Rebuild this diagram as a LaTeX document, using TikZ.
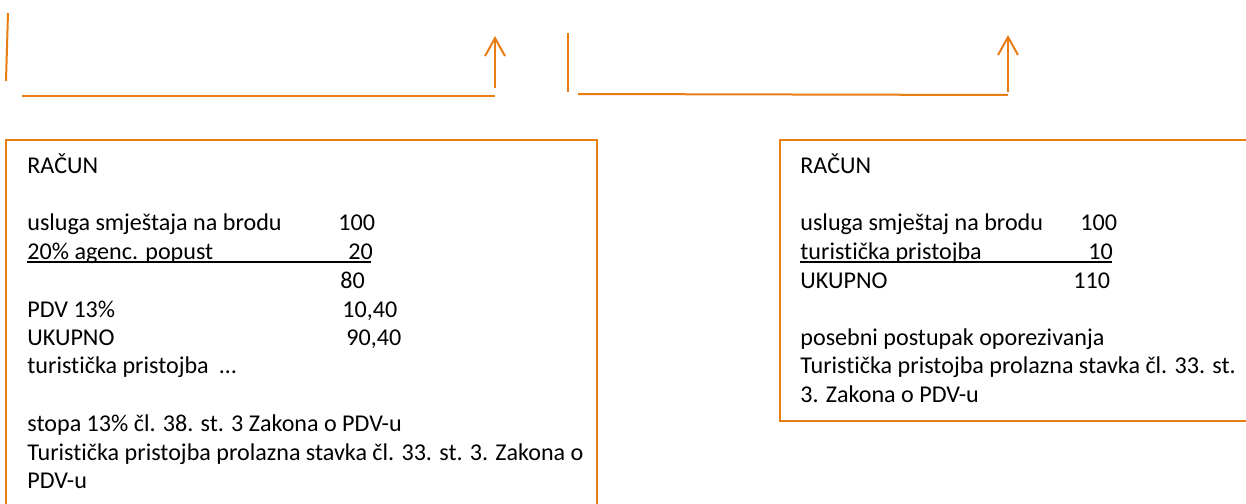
\documentclass[tikz,border=0pt]{standalone}
\usepackage{fontspec}
\setmainfont{Carlito}[Ligatures=NoCommon]
\usetikzlibrary{arrows.meta}
\definecolor{invorange}{RGB}{232,125,20}
\begin{document}
\begin{tikzpicture}[x=0.5pt,y=-0.5pt,
  link/.style={draw=invorange,line width=1pt},
  linkarrow/.style={link,-{Straight Barb[length=9pt,width=10pt,line width=1pt]}},
  frame/.style={draw=invorange,line width=1pt},
  txt/.style={anchor=base west,inner sep=0pt,font=\fontsize{12.05}{14.3}\selectfont},
  rule/.style={draw=black,line width=0.6pt}]
\useasboundingbox (0,0) rectangle (1246,503);
\clip (0,0) rectangle (1246,503);

% flow lines above the invoices
\coordinate (a1) at (8,13);   \coordinate (a2) at (6,81);
\coordinate (b1) at (22,96);  \coordinate (b2) at (495,96);
\coordinate (c1) at (495,88); \coordinate (c2) at (495,36);
\coordinate (d1) at (568,33); \coordinate (d2) at (568,92);
\coordinate (e1) at (578,94); \coordinate (e2) at (1008,95);
\coordinate (f1) at (1008,92);\coordinate (f2) at (1008,35);
\draw[link] (a1) -- (a2);
\draw[link] (b1) -- (b2);
\draw[linkarrow] (c1) -- (c2);
\draw[link] (d1) -- (d2);
\draw[link] (e1) -- (e2);
\draw[linkarrow] (f1) -- (f2);

% left invoice
\draw[frame] (6,140) rectangle (597,540);
\node[txt] (l0) at (27,173) {RAČUN};
\node[txt] (l1) at (27,230) {usluga smještaja na brodu};
\node[txt] (l1n) at (338,230) {100};
\node[txt] (l2) at (27,259) {20\% agenc. popust};
\node[txt] (l2n) at (348,259) {20};
\draw[rule] (27,262) -- (371,262);
\node[txt] (l3n) at (340,288) {80};
\node[txt] (l4) at (27,317) {PDV 13\%};
\node[txt] (l4n) at (342,317) {10,40};
\node[txt] (l5) at (27,345) {UKUPNO};
\node[txt] (l5n) at (346,345) {90,40};
\node[txt] (l6) at (27,373) {turistička pristojba\ \ …};
\node[txt] (l7) at (27,431) {stopa 13\% čl. 38. st. 3 Zakona o PDV-u};
\node[txt] (l8) at (27,460) {Turistička pristojba prolazna stavka čl. 33. st. 3. Zakona o};
\node[txt] (l9) at (27,488) {PDV-u};

% right invoice
\draw[frame] (780,140) rectangle (1300,421);
\node[txt] (r0) at (800,173) {RAČUN};
\node[txt] (r1) at (800,230) {usluga smještaj na brodu};
\node[txt] (r1n) at (1080,230) {100};
\node[txt] (r2) at (800,259) {turistička pristojba};
\node[txt] (r2n) at (1088,259) {10};
\draw[rule] (800,262) -- (1112,262);
\node[txt] (r3) at (800,288) {UKUPNO};
\node[txt] (r3n) at (1073,288) {110};
\node[txt] (r4) at (800,345) {posebni postupak oporezivanja};
\node[txt] (r5) at (800,373) {Turistička pristojba prolazna stavka čl. 33. st.};
\node[txt] (r6) at (800,402) {3. Zakona o PDV-u};
\end{tikzpicture}
\end{document}
